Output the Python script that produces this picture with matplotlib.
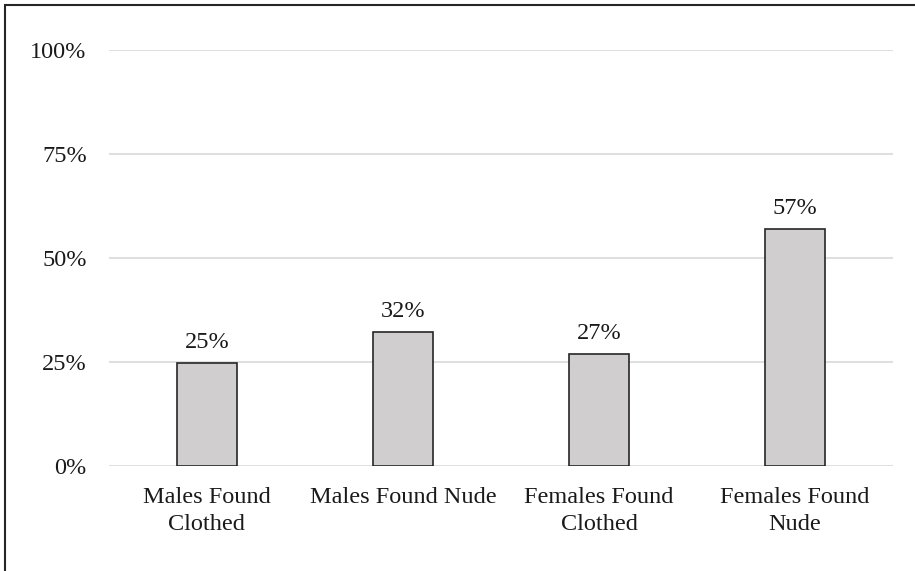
import matplotlib.pyplot as plt
from matplotlib.patches import Rectangle
from matplotlib.ticker import FuncFormatter

categories = ["Males Found\nClothed", "Males Found Nude", "Females Found\nClothed", "Females Found\nNude"]
values = [24.8, 32.2, 26.9, 57.1]
value_labels = ["25%", "32%", "27%", "57%"]
yticks = [0, 25, 50, 75, 100]

plt.rcParams["font.family"] = ["Liberation Serif", "DejaVu Serif"]

fig = plt.figure(figsize=(9.15, 5.71), dpi=100)
ax = fig.add_axes([0.119, 0.184, 0.857, 0.728])

x = list(range(len(categories)))
bars = ax.bar(x, values, width=0.31, color="#D0CECE", edgecolor="#262626",
              linewidth=1.2, zorder=3)

for b, lab in zip(bars, value_labels):
    ax.annotate(lab, (b.get_x() + b.get_width() / 2, b.get_height()),
                xytext=(0, 7), textcoords="offset points",
                ha="center", va="bottom", fontsize=17.5, color="#1a1a1a")

ax.set_xlim(-0.5, len(categories) - 0.5)
ax.set_ylim(0, 100)
ax.set_yticks(yticks)
ax.yaxis.set_major_formatter(FuncFormatter(lambda v, _: f"{v:.0f}%"))
ax.set_xticks(x)
ax.set_xticklabels(categories, linespacing=1.4)
ax.tick_params(axis="both", length=0, labelsize=17.5, labelcolor="#1a1a1a")
ax.tick_params(axis="y", pad=16)
ax.tick_params(axis="x", pad=15)
ax.grid(axis="y", color="#D9D9D9", linewidth=1.2, zorder=0)
for s in ax.spines.values():
    s.set_visible(False)

# outer frame, only top/left edges fall inside the picture
fig.patches.append(Rectangle((0.006, -0.1), 1.2, 1.091, transform=fig.transFigure,
                             fill=False, edgecolor="#262626", linewidth=1.5))

fig.savefig("out.png", dpi=100)
